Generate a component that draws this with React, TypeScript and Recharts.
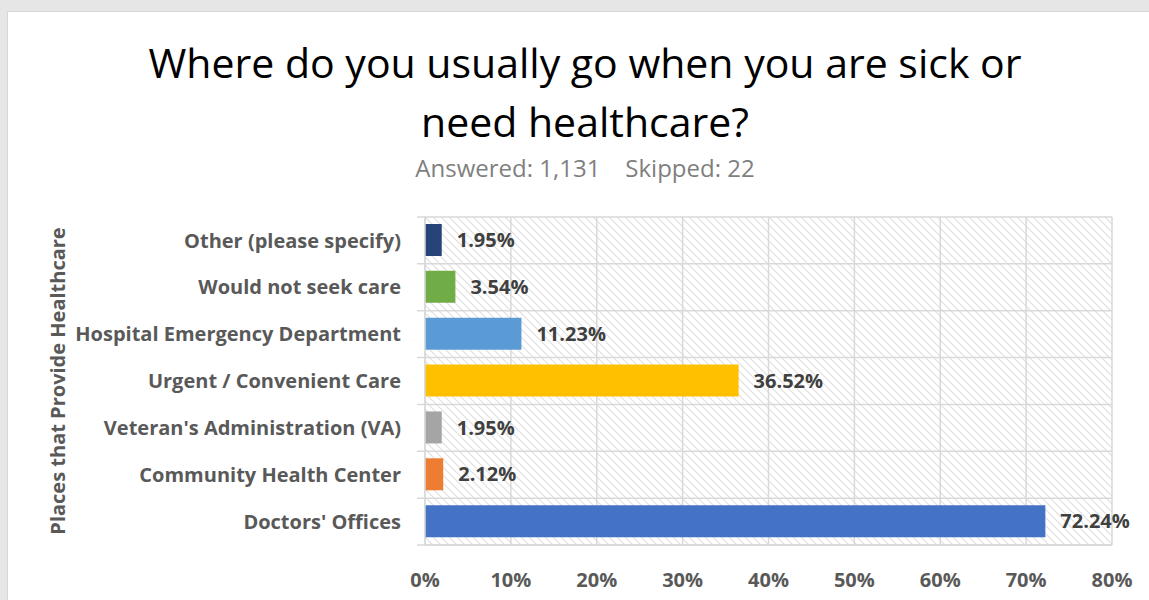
import React from "react";
import { BarChart, Bar, XAxis, YAxis, CartesianGrid, LabelList, Cell } from "recharts";

const categories = [
  "Other (please specify)",
  "Would not seek care",
  "Hospital Emergency Department",
  "Urgent / Convenient Care",
  "Veteran's Administration (VA)",
  "Community Health Center",
  "Doctors' Offices",
];
const percents = [1.95, 3.54, 11.23, 36.52, 1.95, 2.12, 72.24];
const barColors = ["#264478", "#70AD47", "#5B9BD5", "#FFC000", "#A5A5A5", "#ED7D31", "#4472C4"];
const xTicks = [0, 10, 20, 30, 40, 50, 60, 70, 80];

const titleLines = ["Where do you usually go when you are sick or", "need healthcare?"];
const subtitle = "Answered: 1,131\u00A0\u00A0\u00A0\u00A0Skipped: 22";
const yAxisTitle = "Places that Provide Healthcare";

const data = categories.map((name, i) => ({ name, value: percents[i] }));

const FONT = "'Open Sans', 'Noto Sans', sans-serif";
const GRID = "#d9d9d9";

const YLabel = (props: any) => {
  const vb = props.viewBox || {};
  const cx = 57;
  const cy = vb.y + vb.height / 2;
  return (
    <text
      x={cx}
      y={cy}
      transform={`rotate(-90, ${cx}, ${cy})`}
      textAnchor="middle"
      dominantBaseline="central"
      fontFamily={FONT}
      fontWeight="bold"
      fontSize={20}
      fill="#595959"
    >
      {yAxisTitle}
    </text>
  );
};

export default function App() {
  return (
    <div style={{ position: "fixed", left: 0, top: 0, width: 1149, height: 600, background: "#e6e6e6", overflow: "hidden" }}>
      <svg width={0} height={0} style={{ position: "absolute" }}>
        <defs>
          <pattern id="hatch" width={8} height={8} patternUnits="userSpaceOnUse">
            <rect width={8} height={8} fill="#ffffff" />
            <path d="M0,0 L8,8 M-4,4 L4,12 M4,-4 L12,4" stroke="#e0e0e0" strokeWidth={1.2} />
          </pattern>
        </defs>
      </svg>
      <div style={{ position: "absolute", left: 7, top: 11, width: 1160, height: 600, background: "#ffffff", borderLeft: "1px solid #d6d6d6", borderTop: "1px solid #d6d6d6" }} />
      <div style={{ position: "absolute", left: 0, top: 33, width: 1170, textAlign: "center", fontFamily: FONT, fontSize: 41, lineHeight: "59px", color: "#000000" }}>
        {titleLines.map((t, i) => (
          <div key={i}>{t}</div>
        ))}
      </div>
      <div style={{ position: "absolute", left: 0, top: 153, width: 1170, textAlign: "center", fontFamily: FONT, fontSize: 24, lineHeight: "30px", color: "#7f7f7f" }}>
        {subtitle}
      </div>
      <div style={{ position: "absolute", left: 0, top: 0 }}>
        <BarChart
          width={1149}
          height={600}
          data={data}
          layout="vertical"
          margin={{ top: 217, right: 37, bottom: 0, left: 0 }}
        >
          <CartesianGrid
            fill="url(#hatch)"
            stroke={GRID}
            strokeWidth={1.5}
            horizontalCoordinatesGenerator={({ offset }: any) =>
              Array.from({ length: categories.length + 1 }, (_, i) => offset.top + (i * offset.height) / categories.length)
            }
            horizontal={(p: any) => (
              <line key={p.key ?? `h-${p.y1}`} x1={p.x1 - 8} y1={p.y1} x2={p.x2} y2={p.y2} stroke={GRID} strokeWidth={1.5} />
            )}
          />
          <XAxis
            type="number"
            domain={[0, 80]}
            ticks={xTicks}
            height={55}
            tickFormatter={(v: number) => `${v}%`}
            axisLine={{ stroke: GRID, strokeWidth: 1.5 }}
            tickLine={false}
            tickMargin={22}
            tick={{ fontFamily: FONT, fontSize: 20, fontWeight: "bold", fill: "#595959" }}
          />
          <YAxis
            type="category"
            dataKey="name"
            width={425}
            axisLine={{ stroke: GRID, strokeWidth: 1.5 }}
            tickLine={false}
            tickMargin={18}
            interval={0}
            tick={{ fontFamily: FONT, fontSize: 20, fontWeight: "bold", fill: "#595959" }}
            label={<YLabel />}
          />
          <Bar dataKey="value" barSize={32} isAnimationActive={false}>
            {data.map((d, i) => (
              <Cell key={d.name} fill={barColors[i]} />
            ))}
            <LabelList
              dataKey="value"
              position="right"
              offset={15}
              formatter={(v: any) => `${Number(v).toFixed(2)}%`}
              style={{ fontFamily: FONT, fontSize: 20, fontWeight: "bold", fill: "#404040" }}
            />
          </Bar>
        </BarChart>
      </div>
    </div>
  );
}
